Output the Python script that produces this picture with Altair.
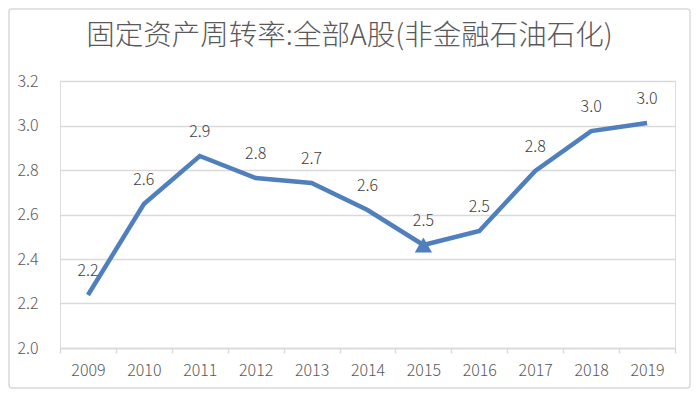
import altair as alt
import pandas as pd

years = ["2009", "2010", "2011", "2012", "2013", "2014", "2015", "2016", "2017", "2018", "2019"]
values = [2.238, 2.647, 2.863, 2.764, 2.742, 2.620, 2.463, 2.526, 2.796, 2.975, 3.011]
marker_years = ["2015"]
y_ticks = [2.0, 2.2, 2.4, 2.6, 2.8, 3.0, 3.2]
title_text = "固定资产周转率:全部A股(非金融石油石化)"

df = pd.DataFrame({"year": years, "value": values})
df_marker = df[df["year"].isin(marker_years)]

FONT = "Noto Sans CJK SC"
BLUE = "#4f7fbd"
W, H = 615, 267

x_enc = alt.X(
    "year:O",
    sort=years,
    scale=alt.Scale(type="band", paddingInner=0, paddingOuter=0),
    axis=alt.Axis(
        title=None,
        labelAngle=0,
        tickBand="extent",
        domainColor="#d9d9d9",
        domainWidth=1.5,
        tickColor="#d9d9d9",
        tickWidth=1.5,
        tickSize=5,
        labelPadding=9,
        labelFontSize=16,
        labelColor="#595959",
        labelFont=FONT,
        labelFontWeight=300,
        grid=False,
    ),
)
y_enc = alt.Y(
    "value:Q",
    scale=alt.Scale(domain=[2.0, 3.2], nice=False, zero=False),
    axis=alt.Axis(
        title=None,
        values=y_ticks,
        format=".1f",
        domain=False,
        ticks=False,
        labelPadding=22,
        labelFontSize=16,
        labelColor="#595959",
        labelFont=FONT,
        labelFontWeight=300,
        grid=True,
        gridColor="#d9d9d9",
        gridWidth=1.5,
    ),
)

base = alt.Chart(df)

line = base.mark_line(color=BLUE, strokeWidth=4.5).encode(x=x_enc, y=y_enc)
labels = base.mark_text(
    dy=-24, fontSize=16, color="#404040", font=FONT, fontWeight=300, baseline="middle"
).encode(x=alt.X("year:O", sort=years), y="value:Q", text=alt.Text("value:Q", format=".1f"))
marker = alt.Chart(df_marker).mark_point(
    shape="triangle-up", filled=True, size=300, color=BLUE, opacity=1
).encode(x=alt.X("year:O", sort=years), y="value:Q")

title = alt.Chart(pd.DataFrame({"t": [title_text]})).mark_text(
    fontSize=28.5, font=FONT, fontWeight=300, color="#595959",
    align="center", baseline="middle", clip=False
).encode(x=alt.value(W / 2 - 18), y=alt.value(-45), text="t:N")

border = alt.Chart(pd.DataFrame({"a": [0]})).mark_rect(
    fill=None, stroke="#d9d9d9", strokeWidth=1.5, cornerRadius=3, clip=False
).encode(
    x=alt.value(-51), x2=alt.value(W + 15), y=alt.value(-72), y2=alt.value(H + 40)
)

chart = (
    alt.layer(line, marker, labels, title, border)
    .properties(
        width=W,
        height=H,
        padding={"left": 52, "top": 73, "right": 16, "bottom": 41},
        autosize=alt.AutoSizeParams(type="none"),
    )
    .configure_view(stroke=None)
    .configure(background="white")
)

chart.save("out.html", embed_options={"renderer": "svg", "actions": False})
